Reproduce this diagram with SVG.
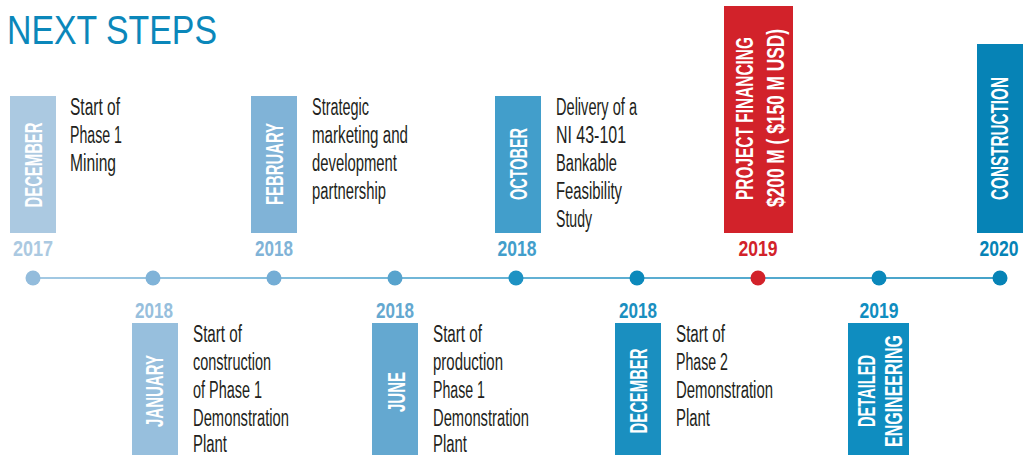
<svg xmlns="http://www.w3.org/2000/svg" width="1031" height="455" viewBox="0 0 1031 455">
<style>
.title{font-family:"Liberation Sans",Arial,sans-serif;font-size:40px;fill:#0b87ba}
.desc{font-family:"Liberation Sans Narrow","Liberation Sans",Arial,sans-serif;font-size:23px;fill:#231f20}
.yr{font-family:"Liberation Sans Narrow","Liberation Sans",Arial,sans-serif;font-size:22px;font-weight:bold;text-anchor:middle}
.lbl{font-family:"Liberation Sans Narrow","Liberation Sans",Arial,sans-serif;font-size:23px;font-weight:bold;fill:#ffffff;text-anchor:middle}
</style>
<defs>
<linearGradient id="lineGrad" x1="33" y1="0" x2="1000" y2="0" gradientUnits="userSpaceOnUse">
<stop offset="0" stop-color="#86b7da"/>
<stop offset="0.5" stop-color="#2f97c6"/>
<stop offset="1" stop-color="#0683b6"/>
</linearGradient>
</defs>
<rect width="1031" height="455" fill="#ffffff"/>
<text class="title" x="7" y="44" textLength="210" lengthAdjust="spacingAndGlyphs">NEXT STEPS</text>

<g id="connectors">
<line x1="33" y1="278" x2="1000" y2="278" stroke="url(#lineGrad)" stroke-width="1.6"/>
</g>

<g id="node-dec-2017">
<rect x="10" y="96" width="46" height="137" fill="#abc9e1"/>
<text class="lbl" transform="translate(42,165) rotate(-90)" textLength="85" lengthAdjust="spacingAndGlyphs">DECEMBER</text>
<text class="yr" x="33" y="256" fill="#abc9e1" textLength="40" lengthAdjust="spacingAndGlyphs">2017</text>
<circle cx="33" cy="278" r="7.5" fill="#93bcdc"/>
<text class="desc" x="70" y="115" textLength="50" lengthAdjust="spacingAndGlyphs">Start of</text>
<text class="desc" x="70" y="143" textLength="52" lengthAdjust="spacingAndGlyphs">Phase 1</text>
<text class="desc" x="70" y="171" textLength="46" lengthAdjust="spacingAndGlyphs">Mining</text>
</g>

<g id="node-jan-2018">
<rect x="132" y="323" width="46" height="132" fill="#97bfdd"/>
<text class="lbl" transform="translate(163,391) rotate(-90)" textLength="72" lengthAdjust="spacingAndGlyphs">JANUARY</text>
<text class="yr" x="154" y="318" fill="#97bfdd" textLength="38" lengthAdjust="spacingAndGlyphs">2018</text>
<circle cx="153" cy="278" r="7.5" fill="#80b3d8"/>
<text class="desc" x="193" y="342" textLength="49" lengthAdjust="spacingAndGlyphs">Start of</text>
<text class="desc" x="193" y="370" textLength="78" lengthAdjust="spacingAndGlyphs">construction</text>
<text class="desc" x="193" y="398" textLength="69" lengthAdjust="spacingAndGlyphs">of Phase 1</text>
<text class="desc" x="193" y="426" textLength="96" lengthAdjust="spacingAndGlyphs">Demonstration</text>
<text class="desc" x="193" y="452" textLength="34" lengthAdjust="spacingAndGlyphs">Plant</text>
</g>

<g id="node-feb-2018">
<rect x="251" y="96" width="46" height="137" fill="#80b3d7"/>
<text class="lbl" transform="translate(283,164) rotate(-90)" textLength="82" lengthAdjust="spacingAndGlyphs">FEBRUARY</text>
<text class="yr" x="274" y="256" fill="#80b3d7" textLength="38" lengthAdjust="spacingAndGlyphs">2018</text>
<circle cx="274" cy="278" r="7.5" fill="#74add5"/>
<text class="desc" x="312" y="115" textLength="57" lengthAdjust="spacingAndGlyphs">Strategic</text>
<text class="desc" x="312" y="143" textLength="96" lengthAdjust="spacingAndGlyphs">marketing and</text>
<text class="desc" x="312" y="171" textLength="85" lengthAdjust="spacingAndGlyphs">development</text>
<text class="desc" x="312" y="199" textLength="74" lengthAdjust="spacingAndGlyphs">partnership</text>
</g>

<g id="node-jun-2018">
<rect x="372" y="323" width="46" height="132" fill="#64a8d0"/>
<text class="lbl" transform="translate(405,392) rotate(-90)" textLength="40" lengthAdjust="spacingAndGlyphs">JUNE</text>
<text class="yr" x="395" y="318" fill="#64a8d0" textLength="38" lengthAdjust="spacingAndGlyphs">2018</text>
<circle cx="395" cy="278" r="7.5" fill="#57a3cd"/>
<text class="desc" x="433" y="342" textLength="49" lengthAdjust="spacingAndGlyphs">Start of</text>
<text class="desc" x="433" y="370" textLength="70" lengthAdjust="spacingAndGlyphs">production</text>
<text class="desc" x="433" y="398" textLength="52" lengthAdjust="spacingAndGlyphs">Phase 1</text>
<text class="desc" x="433" y="426" textLength="96" lengthAdjust="spacingAndGlyphs">Demonstration</text>
<text class="desc" x="433" y="452" textLength="34" lengthAdjust="spacingAndGlyphs">Plant</text>
</g>

<g id="node-oct-2018">
<rect x="495" y="96" width="46" height="137" fill="#429ecb"/>
<text class="lbl" transform="translate(527,164) rotate(-90)" textLength="72" lengthAdjust="spacingAndGlyphs">OCTOBER</text>
<text class="yr" x="517" y="256" fill="#429ecb" textLength="39" lengthAdjust="spacingAndGlyphs">2018</text>
<circle cx="516" cy="278" r="7.5" fill="#1e92c3"/>
<text class="desc" x="556" y="115" textLength="81" lengthAdjust="spacingAndGlyphs">Delivery of a</text>
<text class="desc" x="556" y="143" textLength="70" lengthAdjust="spacingAndGlyphs">NI 43-101</text>
<text class="desc" x="556" y="171" textLength="61" lengthAdjust="spacingAndGlyphs">Bankable</text>
<text class="desc" x="556" y="199" textLength="66" lengthAdjust="spacingAndGlyphs">Feasibility</text>
<text class="desc" x="556" y="227" textLength="36" lengthAdjust="spacingAndGlyphs">Study</text>
</g>

<g id="node-dec-2018">
<rect x="615" y="323" width="46" height="132" fill="#1a8fc0"/>
<text class="lbl" transform="translate(647,391) rotate(-90)" textLength="85" lengthAdjust="spacingAndGlyphs">DECEMBER</text>
<text class="yr" x="638" y="318" fill="#1a8fc0" textLength="38" lengthAdjust="spacingAndGlyphs">2018</text>
<circle cx="637" cy="278" r="7.5" fill="#0c89bb"/>
<text class="desc" x="676" y="342" textLength="49" lengthAdjust="spacingAndGlyphs">Start of</text>
<text class="desc" x="676" y="370" textLength="52" lengthAdjust="spacingAndGlyphs">Phase 2</text>
<text class="desc" x="676" y="398" textLength="97" lengthAdjust="spacingAndGlyphs">Demonstration</text>
<text class="desc" x="676" y="426" textLength="34" lengthAdjust="spacingAndGlyphs">Plant</text>
</g>

<g id="node-financing-2019">
<rect x="724" y="6" width="69" height="227" fill="#d2222a"/>
<text class="lbl" transform="translate(753,118.5) rotate(-90)" textLength="163" lengthAdjust="spacingAndGlyphs">PROJECT FINANCING</text>
<text class="lbl" transform="translate(784,118) rotate(-90)" textLength="178" lengthAdjust="spacingAndGlyphs">$200 M ( $150 M USD)</text>
<text class="yr" x="758" y="256" fill="#d2222a" textLength="39" lengthAdjust="spacingAndGlyphs">2019</text>
<circle cx="758" cy="278" r="7.5" fill="#d2222a"/>
</g>

<g id="node-engineering-2019">
<rect x="848" y="323" width="61" height="132" fill="#0f8dc0"/>
<text class="lbl" transform="translate(875,391) rotate(-90)" textLength="72" lengthAdjust="spacingAndGlyphs">DETAILED</text>
<text class="lbl" transform="translate(902,391) rotate(-90)" textLength="112" lengthAdjust="spacingAndGlyphs">ENGINEERING</text>
<text class="yr" x="879" y="318" fill="#0f8dc0" textLength="39" lengthAdjust="spacingAndGlyphs">2019</text>
<circle cx="879" cy="278" r="7.5" fill="#0a88bb"/>
</g>

<g id="node-construction-2020">
<rect x="977" y="44" width="46" height="189" fill="#0683b6"/>
<text class="lbl" transform="translate(1008,138.5) rotate(-90)" textLength="123" lengthAdjust="spacingAndGlyphs">CONSTRUCTION</text>
<text class="yr" x="999" y="256" fill="#0683b6" textLength="39" lengthAdjust="spacingAndGlyphs">2020</text>
<circle cx="1000" cy="278" r="7.5" fill="#0683b6"/>
</g>
</svg>
